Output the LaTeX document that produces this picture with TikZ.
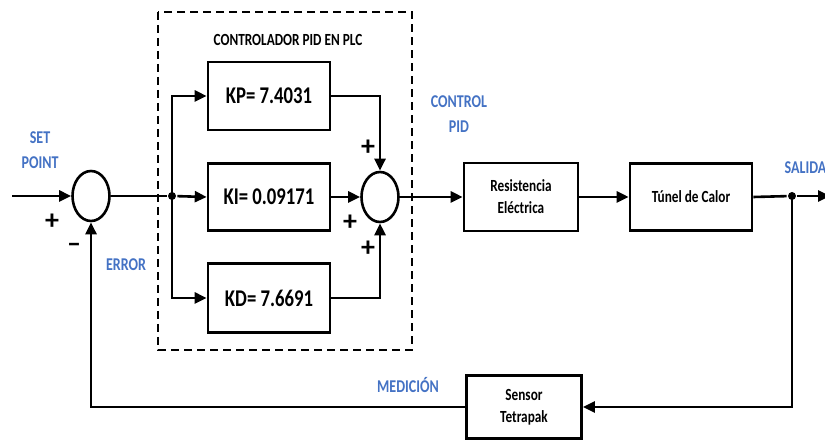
\documentclass[tikz,border=0pt]{standalone}
\usepackage{fontspec}
\setmainfont{Carlito}[FakeStretch=0.78]
\newfontfamily\signfont{Carlito}
\usetikzlibrary{arrows.meta,shapes.geometric}
\definecolor{lblue}{RGB}{68,114,196}
\begin{document}
\begin{tikzpicture}[x=1pt,y=-1pt,
  line width=2.6pt,
  arr/.style={-{Triangle[length=12pt,width=11pt]}},
  blk/.style={draw,rectangle,line width=2.6pt,inner sep=0pt,align=center,font=\bfseries},
  gain/.style={blk,minimum width=122pt,font=\bfseries\fontsize{24}{26}\selectfont},
  plant/.style={blk,font=\bfseries\fontsize{17}{22}\selectfont},
  sumj/.style={draw,ellipse,line width=2.6pt,minimum width=37pt,minimum height=50pt,inner sep=0pt},
  lbl/.style={font=\bfseries\fontsize{18}{25}\selectfont,text=lblue,align=center},
  sgn/.style={font=\signfont\bfseries\fontsize{28}{28}\selectfont,inner sep=0pt},
  dot/.style={circle,fill,inner sep=0pt,minimum size=8pt}]
\useasboundingbox (0,0) rectangle (825,443);

% PLC controller frame
\draw[line width=1.8pt,dash pattern=on 8pt off 5pt] (158,12) rectangle (412,350);
\node[font=\bfseries\fontsize{17}{20}\selectfont] (title) at (288,40) {CONTROLADOR PID EN PLC};

% summing junctions
\node[sumj] (s1) at (91,196) {};
\node[sumj] (s2) at (380,197) {};

% gain blocks
\node[gain,minimum height=68pt] (kp) at (269,96) {KP= 7.4031};
\node[gain,minimum height=67pt] (ki) at (269,197) {KI= 0.09171};
\node[gain,minimum height=69pt] (kd) at (269,298) {KD= 7.6691};

% plant and sensor blocks
\node[plant,minimum width=114pt,minimum height=68pt] (res) at (521,197) {Resistencia\\Eléctrica};
\node[plant,minimum width=122pt,minimum height=67pt] (tun) at (691,197) {Túnel de Calor};
\node[plant,minimum width=115pt,minimum height=63pt] (sen) at (524,407) {Sensor\\Tetrapak};

% auxiliary points
\coordinate (in) at (12,196);
\node[dot] (b) at (172,196) {};
\node[dot] (o) at (792,196) {};
\coordinate (out) at (830,196);

% signal paths
\draw[arr] (in) -- (s1.west);
\draw (s1.east) -- (b);
\draw[arr] (b) -- (ki.west);
\draw[arr] (b.center) |- (kp.west);
\draw[arr] (b.center) |- (kd.west);
\draw[arr] (kp.east) -| (s2.north);
\draw[arr] (ki.east) -- (s2.west);
\draw[arr] (kd.east) -| (s2.south);
\draw[arr] (s2.east) -- (res.west);
\draw[arr] (res.east) -- (tun.west);
\draw (tun.east) -- (o);
\draw[arr] (o) -- (out);
\draw[arr] (o.center) |- (sen.east);
\draw[arr] (sen.west) -| (s1.south);

% signs
\node[sgn] (p1) at (52,222) {+};
\node[sgn] (m1) at (74,248) {–};
\node[sgn] (p2) at (368,148) {+};
\node[sgn] (p3) at (350,223) {+};
\node[sgn] (p4) at (368,249) {+};

% signal labels
\node[lbl] (sp) at (40,150) {SET\\POINT};
\node[lbl] (err) at (126,265) {ERROR};
\node[lbl] (cp) at (459,114) {CONTROL\\PID};
\node[lbl,anchor=west] (sal) at (780,168) {SALIDA};
\node[lbl] (med) at (408,385) {MEDICIÓN};
\end{tikzpicture}
\end{document}
